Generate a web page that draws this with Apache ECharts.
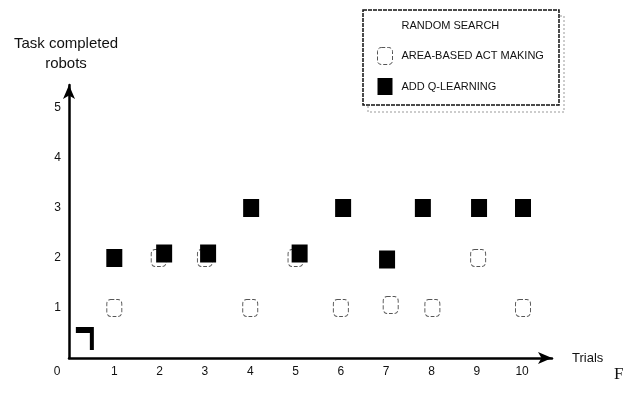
<!DOCTYPE html>
<html><head><meta charset="utf-8">
<script src="https://cdn.jsdelivr.net/npm/echarts@6/dist/echarts.min.js"></script>
<style>html,body{margin:0;padding:0;background:#fff}#c{width:630px;height:394px}</style>
</head><body><div id="c"></div>
<script>
// Data
const xTickLabels = ['0','1','2','3','4','5','6','7','8','9','10'];
const yTickLabels = ['', '1','2','3','4','5'];
const randomTrials = [0.35];
const randomValues = [0.39];
const areaTrials = [1, 1.98, 3.0, 4, 5.0, 6, 7.1, 8.02, 9.03, 10.02];
const areaValues = [1, 2, 2, 1, 2, 1, 1.06, 1, 2, 1];
const qTrials = [1, 2.1, 3.07, 4.02, 5.09, 6.05, 7.02, 7.81, 9.05, 10.02];
const qValues = [2, 2.09, 2.09, 3, 2.09, 3, 1.97, 3, 3, 3];

const pairs = (xs, ys) => xs.map((x, i) => [x, ys[i]]);
const font = '"Liberation Sans", Arial, sans-serif';

const chart = echarts.init(document.getElementById('c'), null, {renderer: 'canvas'});
chart.setOption({
  animation: false,
  backgroundColor: '#fff',
  grid: {left: 69, top: 85, width: 483, height: 273, containLabel: false},
  xAxis: {
    type: 'value', min: 0, max: 10.66, interval: 1,
    name: 'Trials', nameLocation: 'end', nameGap: 20,
    nameTextStyle: {color: '#111', fontSize: 13, fontFamily: font, verticalAlign: 'middle'},
    axisLine: {show: true, symbol: ['none', 'arrow'], symbolSize: [9, 14], lineStyle: {color: '#000', width: 2.5}},
    axisTick: {show: false},
    splitLine: {show: false},
    axisLabel: {
      margin: 8, color: '#111', fontSize: 12, fontFamily: font,
      formatter: v => {
        const i = Math.round(v);
        if (Math.abs(v - i) > 1e-6) return '';
        return i === 0 ? '{z|' + xTickLabels[0] + '}' : xTickLabels[i];
      },
      rich: {z: {padding: [0, 24, 0, 0], fontSize: 12, fontFamily: font, color: '#111'}},
      showMaxLabel: false
    }
  },
  yAxis: {
    type: 'value', min: 0, max: 5.46, interval: 1,
    name: 'Task completed\nrobots', nameLocation: 'end', nameGap: 11,
    nameTextStyle: {color: '#111', fontSize: 15, fontFamily: font, lineHeight: 20, align: 'center', padding: [0, 6, 0, 0]},
    axisLine: {show: true, symbol: ['none', 'arrow'], symbolSize: [9, 14], lineStyle: {color: '#000', width: 2.5}},
    axisTick: {show: false},
    splitLine: {show: false},
    axisLabel: {
      margin: 8, color: '#111', fontSize: 12, fontFamily: font,
      formatter: v => {
        const i = Math.round(v);
        if (Math.abs(v - i) > 1e-6) return '';
        return yTickLabels[i] || '';
      },
      showMaxLabel: false
    }
  },
  legend: {
    orient: 'vertical', left: 377, top: 17, padding: 0, itemGap: 13,
    itemWidth: 15, itemHeight: 17, z: 20,
    textStyle: {color: '#111', fontSize: 11, fontFamily: font, padding: [0, 0, 0, 4]},
    data: [
      {name: 'RANDOM SEARCH', icon: 'rect', itemStyle: {color: 'rgba(0,0,0,0)', borderWidth: 0}},
      {name: 'AREA-BASED ACT MAKING', icon: 'roundRect', itemStyle: {color: '#fff', borderColor: '#555', borderWidth: 1, borderType: 'dashed', opacity: 1}},
      {name: 'ADD Q-LEARNING', icon: 'rect', itemStyle: {color: '#000', borderWidth: 0, opacity: 1}}
    ]
  },
  series: [
    {
      name: 'RANDOM SEARCH', type: 'scatter', z: 3,
      data: pairs(randomTrials, randomValues),
      symbol: 'path://M0,0 L18,0 L18,23 L14,23 L14,6 L0,6 Z',
      symbolSize: [18, 23],
      itemStyle: {color: '#000', opacity: 1}
    },
    {
      name: 'AREA-BASED ACT MAKING', type: 'scatter', z: 3,
      data: pairs(areaTrials, areaValues),
      symbol: 'roundRect', symbolSize: [15, 17],
      itemStyle: {color: '#fff', borderColor: '#555', borderWidth: 1, borderType: 'dashed', opacity: 1}
    },
    {
      name: 'ADD Q-LEARNING', type: 'scatter', z: 4,
      data: pairs(qTrials, qValues),
      symbol: 'rect', symbolSize: [16, 18],
      itemStyle: {color: '#000', opacity: 1}
    }
  ],
  graphic: [
    {type: 'rect', z: 1, silent: true, shape: {x: 368, y: 16, width: 196, height: 96},
     style: {fill: 'none', stroke: '#999', lineWidth: 1, lineDash: [2, 2]}},
    {type: 'rect', z: 2, silent: true, shape: {x: 363, y: 10, width: 196, height: 95},
     style: {fill: '#fff', stroke: '#111', lineWidth: 1.5, lineDash: [4, 1]}},
    {type: 'text', z: 2, silent: true, left: 614, top: 366,
     style: {text: 'F', fill: '#111', font: '17px "Liberation Serif", "Times New Roman", serif'}}
  ]
});
</script>
</body></html>
